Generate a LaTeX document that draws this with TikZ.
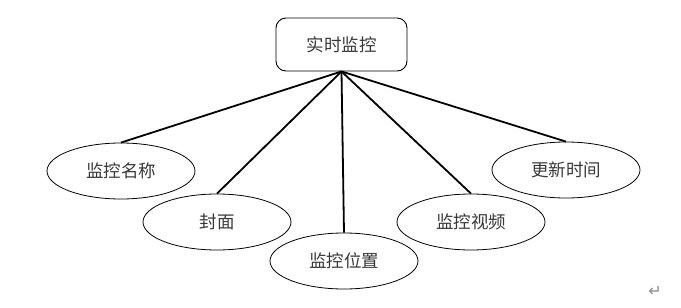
\documentclass[tikz,border=0pt]{standalone}
\usepackage{fontspec}
\usetikzlibrary{shapes.geometric}
\newfontfamily\cjk{Noto Sans CJK SC}
\newfontfamily\symfont{DejaVu Sans}
\begin{document}
\begin{tikzpicture}[x=1pt,y=-1pt,
  lbl/.style={font=\cjk\fontsize{17.5}{20}\selectfont, text=black!78},
  rootbox/.style={lbl, draw=black, line width=0.9pt, rounded corners=10pt, minimum width=131pt, minimum height=53pt, inner sep=0pt},
  leaf/.style={lbl, ellipse, draw=black, line width=0.8pt, minimum width=148pt, minimum height=56pt, inner sep=0pt},
  conn/.style={draw=black, line width=1.8pt}]
\useasboundingbox (0,0) rectangle (681,308);
\node[rootbox] (root) at (341.5,44.5) {实时监控};
\node[leaf] (a) at (121,171) {监控名称};
\node[leaf] (b) at (217,222) {封面};
\node[leaf] (c) at (344,261) {监控位置};
\node[leaf] (d) at (471,222) {监控视频};
\node[leaf] (e) at (566,170) {更新时间};
\foreach \n in {a,b,c,d,e} \draw[conn] (root.south) -- (\n.north);
\node[font=\symfont\fontsize{16}{18}\selectfont, text=black!45] (ret) at (655,291) {↵};
\end{tikzpicture}
\end{document}
